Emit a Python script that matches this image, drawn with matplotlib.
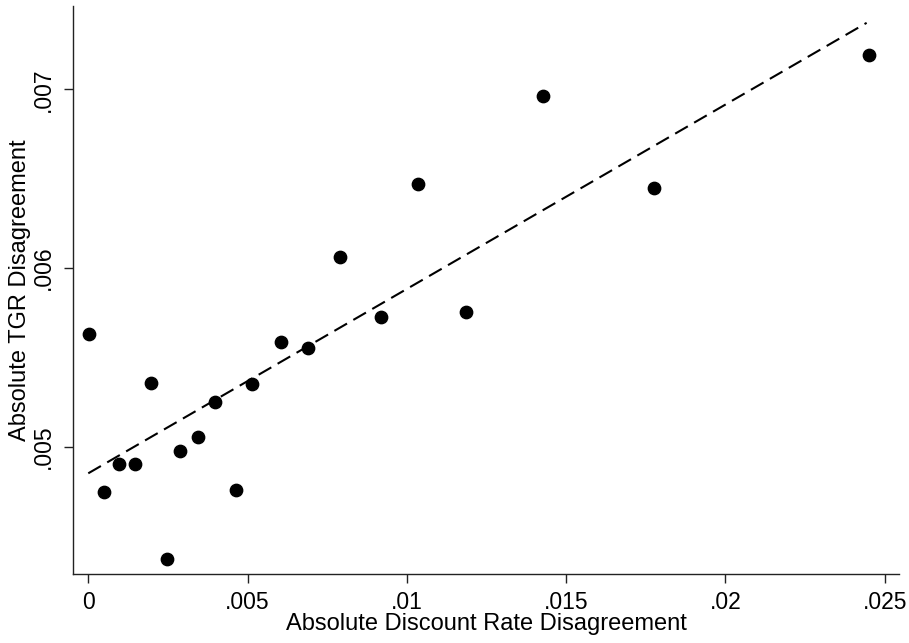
import numpy as np
import matplotlib
matplotlib.use('Agg')
import matplotlib.pyplot as plt

plt.rcParams['font.family'] = ['Liberation Sans', 'DejaVu Sans']

# binned means
disc_dis = [0.00003, 0.00050, 0.00095, 0.00147, 0.00197, 0.00247, 0.00288,
            0.00343, 0.00398, 0.00465, 0.00513, 0.00604, 0.00691, 0.00789,
            0.00918, 0.01036, 0.01186, 0.01428, 0.01775, 0.02450]
tgr_dis = [0.005630, 0.004748, 0.004907, 0.004907, 0.005356, 0.004372, 0.004976,
           0.005054, 0.005252, 0.004758, 0.005352, 0.005586, 0.005554, 0.006064,
           0.005729, 0.006473, 0.005754, 0.006961, 0.006447, 0.007191]

# fitted line
fit_intercept = 0.004853
fit_slope = 0.1031

xticks = [0, 0.005, 0.01, 0.015, 0.02, 0.025]
xtick_labels = ['0', '.005', '.01', '.015', '.02', '.025']
yticks = [0.005, 0.006, 0.007]
ytick_labels = ['.005', '.006', '.007']

fig = plt.figure(figsize=(9.09, 6.43), dpi=100)
ax = fig.add_axes([0.0806, 0.1073, 0.9084, 0.8834])

x = np.array(disc_dis)
y = np.array(tgr_dis)
ax.plot(x, y, 'o', color='black', markersize=8.9, zorder=3)

xl = np.array([0.0, 0.02443])
ax.plot(xl, fit_intercept + fit_slope * xl, color='black', lw=1.5,
        linestyle=(0, (7, 3.5)), zorder=2)

ax.set_xlim(-0.000471, 0.025446)
ax.set_ylim(0.004290, 0.007466)

ax.set_xticks(xticks)
ax.set_xticklabels(xtick_labels)
ax.set_yticks(yticks)
ax.set_yticklabels(ytick_labels, rotation=90, va='center')

ax.spines['top'].set_visible(False)
ax.spines['right'].set_visible(False)
for s in ['left', 'bottom']:
    ax.spines[s].set_linewidth(1.0)
    ax.spines[s].set_color('#222222')

ax.tick_params(axis='both', direction='out', length=6.5, width=1.0,
               color='#222222', labelsize=16.5)
ax.tick_params(axis='x', pad=6)
ax.tick_params(axis='y', pad=7)

ax.set_xlabel('Absolute Discount Rate Disagreement', fontsize=17, labelpad=-1)
ax.set_ylabel('Absolute TGR Disagreement', fontsize=17, labelpad=0.5)

fig.savefig('out.png', dpi=100)
